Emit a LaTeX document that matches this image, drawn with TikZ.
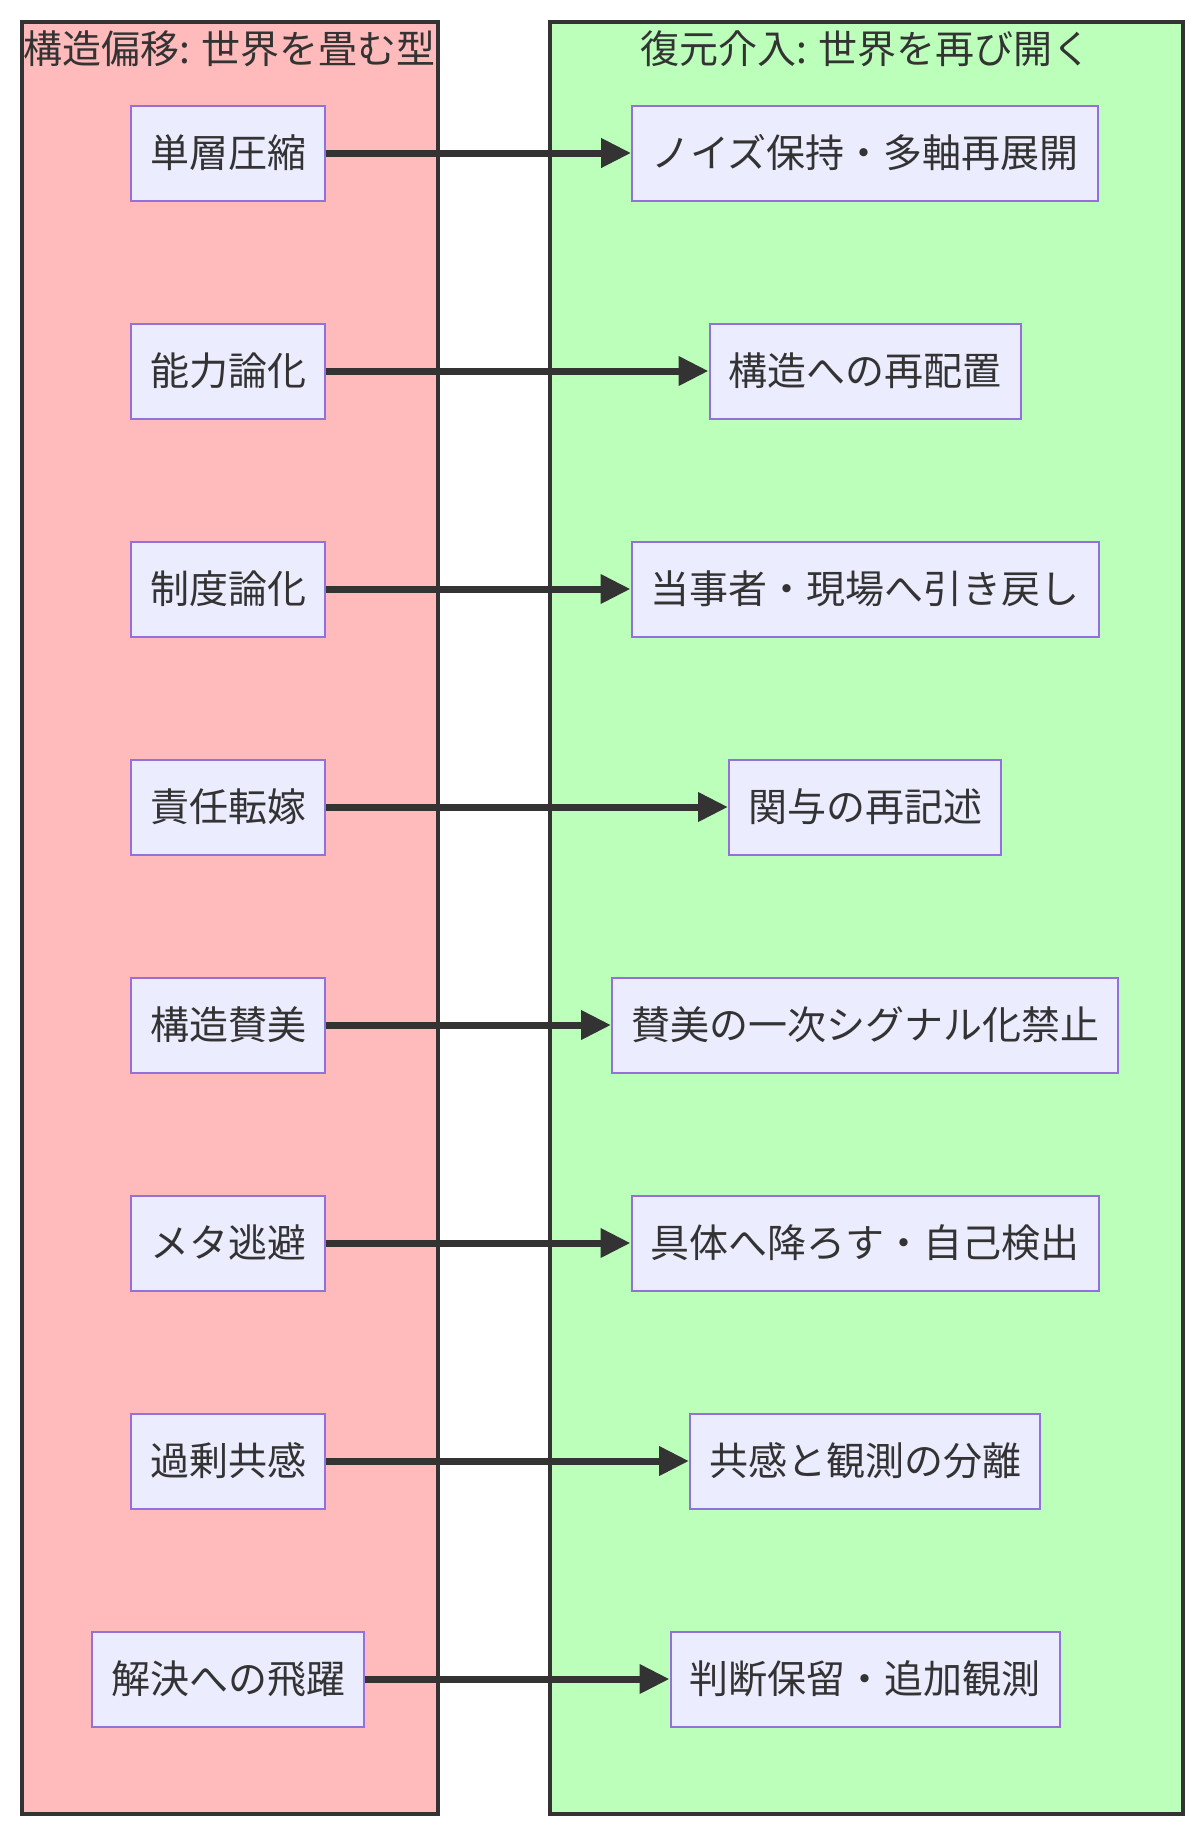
\documentclass[tikz,border=0pt]{standalone}
\usepackage{fontspec}
\newfontfamily\jpfont{Noto Sans CJK JP}
\usepackage{tikz}
\usetikzlibrary{positioning,arrows.meta}
\definecolor{textgray}{HTML}{333333}
\definecolor{driftcolor}{HTML}{FFBBBB}
\definecolor{restorecolor}{HTML}{BBFFBB}
\definecolor{nodefill}{HTML}{ECECFF}
\definecolor{nodeline}{HTML}{9370DB}

\begin{document}
\begin{tikzpicture}[
    x=1pt, y=-1pt,
    node distance=121pt,
    every node/.style={font=\jpfont\fontsize{39}{47}\selectfont, text=textgray},
    group/.style={rectangle, draw=textgray, line width=3.5pt, anchor=north west, minimum height=1792pt},
    grouptitle/.style={inner sep=0pt},
    block/.style={rectangle, draw=nodeline, line width=2pt, fill=nodefill, minimum height=95pt, inner xsep=19pt},
    arrow/.style={-{Triangle[length=30pt,width=28pt]}, line width=7pt, draw=textgray}
]
\useasboundingbox (0,0) rectangle (1200,1832);

% Groups
\node[group, fill=driftcolor, minimum width=416pt] (drift) at (20,20) {};
\node[group, fill=restorecolor, minimum width=633pt] (restore) at (548,20) {};
\node[grouptitle] (drift_title) at ([yshift=-29pt]drift.north) {構造偏移: 世界を畳む型};
\node[grouptitle] (restore_title) at ([yshift=-29pt]restore.north) {復元介入: 世界を再び開く};

% Left: drift patterns
\node[block] (single_layer) at (228,153) {単層圧縮};
\node[block, below=of single_layer] (ability) {能力論化};
\node[block, below=of ability] (institution) {制度論化};
\node[block, below=of institution] (blame) {責任転嫁};
\node[block, below=of blame] (praise) {構造賛美};
\node[block, below=of praise] (meta) {メタ逃避};
\node[block, below=of meta] (empathy) {過剰共感};
\node[block, below=of empathy] (leap) {解決への飛躍};

% Right: restoring moves
\coordinate (rcol) at (865,0);
\node[block] (noise) at (single_layer -| rcol) {ノイズ保持・多軸再展開};
\node[block] (relocate) at (ability -| rcol) {構造への再配置};
\node[block] (pull_back) at (institution -| rcol) {当事者・現場へ引き戻し};
\node[block] (involve) at (blame -| rcol) {関与の再記述};
\node[block] (no_praise) at (praise -| rcol) {賛美の一次シグナル化禁止};
\node[block] (concrete) at (meta -| rcol) {具体へ降ろす・自己検出};
\node[block] (separate) at (empathy -| rcol) {共感と観測の分離};
\node[block] (suspend) at (leap -| rcol) {判断保留・追加観測};

% Arrows
\draw[arrow] (single_layer) -- (noise);
\draw[arrow] (ability) -- (relocate);
\draw[arrow] (institution) -- (pull_back);
\draw[arrow] (blame) -- (involve);
\draw[arrow] (praise) -- (no_praise);
\draw[arrow] (meta) -- (concrete);
\draw[arrow] (empathy) -- (separate);
\draw[arrow] (leap) -- (suspend);

\end{tikzpicture}
\end{document}
